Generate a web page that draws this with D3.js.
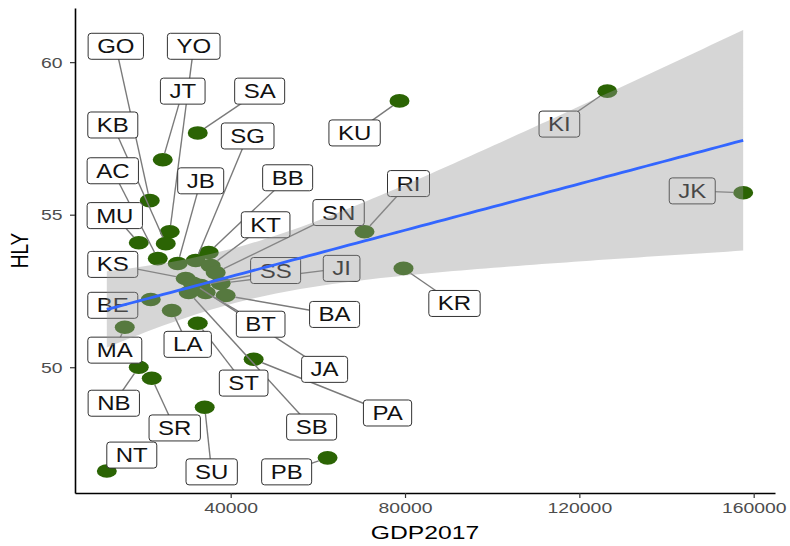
<!DOCTYPE html>
<html>
<head>
<meta charset="utf-8">
<script src="https://cdn.jsdelivr.net/npm/d3@7"></script>
<style>
  body { margin: 0; background: #fff; }
  text { font-family: "Liberation Sans", Arial, sans-serif; }
</style>
</head>
<body>
<svg width="790" height="546"></svg>
<script>
//## DATA ##
const provinces = ['GO', 'YO', 'JT', 'SA', 'KB', 'AC', 'MU', 'KS', 'BE', 'MA', 'NB', 'SR', 'NT', 'SU', 'PB', 'PA', 'LA',
  'ST', 'JB', 'SG', 'BB', 'KT', 'SN', 'SS', 'JI', 'BA', 'BT', 'JA', 'SB', 'RI', 'KR', 'KI', 'KU', 'JK']
const gdp2017 = [21430, 26020, 24410, 32440, 25100, 23270, 18910, 29680, 21660, 15700, 18910, 21890, 11580, 34040, 62230, 45270, 26480,
  32440, 27850, 31980, 34960, 35410, 36560, 33120, 37710, 38850, 34270, 31290, 30370, 70710, 79650, 126410, 78730, 157590]
const hly = [55.46, 54.44, 56.80, 57.68, 54.05, 53.56, 54.08, 52.91, 52.22, 51.31, 50.00, 49.64, 46.60, 48.69, 47.03, 50.26, 51.86,
  51.44, 53.40, 53.50, 53.76, 53.33, 53.10, 52.68, 52.75, 52.35, 52.45, 52.75, 52.45, 54.44, 53.24, 59.05, 58.73, 55.72]
// where the repelled labels ended up (data units)
const labelGdp = [13640, 31520, 29000, 46650, 12950, 12950, 13410, 12950, 12950, 13410, 13180, 27160, 17310, 35640, 52840, 75990, 30140,
  42980, 33120, 43900, 53070, 48020, 64760, 50310, 65450, 63840, 46880, 61550, 58570, 80800, 91350, 115420, 68430, 145900]
const labelHly = [60.52, 60.52, 59.05, 59.05, 57.94, 56.44, 54.97, 53.37, 52.03, 50.56, 48.82, 48.01, 47.12, 46.57, 46.57, 48.50, 50.75,
  49.48, 56.11, 57.58, 56.21, 54.67, 55.07, 53.17, 53.24, 51.73, 51.41, 49.93, 48.04, 56.02, 52.09, 57.97, 57.68, 55.78]
const xTicks = [40000, 80000, 120000, 160000]
const yTicks = [50, 55, 60]

//## SETTINGS ##
const svg = d3.select('svg')
const margin = { left: 75, right: 15, top: 8, bottom: 53 }
const width = 790
const height = 546
const stretch = 1.2 // the picture is a bit wider than tall

const data = provinces.map((p, i) => ({ name: p, x: gdp2017[i], y: hly[i], lx: labelGdp[i], ly: labelHly[i] }))

//## LINEAR MODEL (geom_smooth method = 'lm') ##
const n = data.length
const meanX = d3.mean(data, d => d.x)
const meanY = d3.mean(data, d => d.y)
const sxx = d3.sum(data, d => (d.x - meanX) ** 2)
const sxy = d3.sum(data, d => (d.x - meanX) * (d.y - meanY))
const slope = sxy / sxx
const intercept = meanY - slope * meanX
const sse = d3.sum(data, d => (d.y - intercept - slope * d.x) ** 2)
const sigma = Math.sqrt(sse / (n - 2))
const tCrit = 2.0369 // qt(0.975, 32)

const [minX, maxX] = d3.extent(data, d => d.x)
const fit = d3.range(80).map(i => {
  const gx = minX + i * (maxX - minX) / 79
  const fy = intercept + slope * gx
  const se = sigma * Math.sqrt(1 / n + (gx - meanX) ** 2 / sxx)
  return { x: gx, y: fy, lo: fy - tCrit * se, hi: fy + tCrit * se }
})

//## SCALES ##
const expand = ([a, b]) => [a - (b - a) * 0.05, b + (b - a) * 0.05]
const yExtent = [Math.min(d3.min(data, d => d.y), d3.min(fit, d => d.lo)), Math.max(d3.max(data, d => d.y), d3.max(fit, d => d.hi))]

const scaleX = d3.scaleLinear()
  .domain(expand([minX, maxX]))
  .range([margin.left, width - margin.right])

const scaleY = d3.scaleLinear()
  .domain(expand(yExtent))
  .range([height - margin.bottom, margin.top])

//## POINTS ##
const rx = 10
const ry = 6.8
svg.append('g').selectAll('ellipse').data(data)
  .enter().append('ellipse')
    .attr('cx', d => scaleX(d.x))
    .attr('cy', d => scaleY(d.y))
    .attr('rx', rx)
    .attr('ry', ry)
    .attr('fill', '#2b6404')

//## LABEL SEGMENTS ##
svg.append('g').selectAll('line').data(data)
  .enter().append('line')
    .each(function(d) {
      const px = scaleX(d.x)
      const py = scaleY(d.y)
      const lx = scaleX(d.lx)
      const ly = scaleY(d.ly)
      const dx = lx - px
      const dy = ly - py
      const k = 1 / Math.sqrt((dx / rx) ** 2 + (dy / ry) ** 2) // stop at the point edge
      d3.select(this)
        .attr('x1', lx).attr('y1', ly)
        .attr('x2', px + dx * Math.min(k, 1)).attr('y2', py + dy * Math.min(k, 1))
    })
    .attr('stroke', '#7a7a7a')
    .attr('stroke-width', 1.4)

//## LABELS ##
const labels = svg.append('g').selectAll('g').data(data)
  .enter().append('g')
    .attr('transform', d => 'translate(' + scaleX(d.lx) + ',' + scaleY(d.ly) + ')')

const boxes = labels.append('rect')
labels.append('text')
  .attr('text-anchor', 'middle')
  .attr('transform', 'translate(0,7) scale(' + stretch + ',1)')
  .attr('font-size', 20)
  .attr('fill', '#111')
  .text(d => d.name)

labels.each(function() {
  const g = d3.select(this)
  const w = g.select('text').node().getComputedTextLength() * stretch + 18
  g.select('rect')
    .attr('x', -w / 2).attr('y', -13)
    .attr('width', w).attr('height', 26)
    .attr('rx', 3)
    .attr('fill', '#fff')
    .attr('stroke', '#333')
    .attr('stroke-width', 1)
})

//## SMOOTH ##
svg.append('path')
  .datum(fit)
  .attr('d', d3.area().x(d => scaleX(d.x)).y0(d => scaleY(d.lo)).y1(d => scaleY(d.hi)))
  .attr('fill', '#999999')
  .attr('fill-opacity', 0.4)

svg.append('path')
  .datum(fit)
  .attr('d', d3.line().x(d => scaleX(d.x)).y(d => scaleY(d.y)))
  .attr('fill', 'none')
  .attr('stroke', '#3366FF')
  .attr('stroke-width', 2.8)

//## AXES ##
const xAxisGroup = svg.append('g')
  .attr('transform', 'translate(0,' + (height - margin.bottom) + ')')
  .call(d3.axisBottom(scaleX).tickValues(xTicks).tickFormat(d3.format('d')).tickSize(5).tickSizeOuter(0).tickPadding(4))

const yAxisGroup = svg.append('g')
  .attr('transform', 'translate(' + margin.left + ',0)')
  .call(d3.axisLeft(scaleY).tickValues(yTicks).tickSize(5).tickSizeOuter(0))

svg.selectAll('.domain').attr('stroke', '#000').attr('stroke-width', 1.6)
svg.selectAll('.tick line').attr('stroke', '#333').attr('stroke-width', 1.2)
svg.selectAll('.tick text')
  .attr('font-size', 15.5)
  .attr('font-family', '"Liberation Sans", Arial, sans-serif')
  .attr('fill', '#4d4d4d')
  .attr('transform', 'scale(1.25,1)')
yAxisGroup.selectAll('.tick text').attr('x', -10)

svg.append('text')
  .attr('text-anchor', 'middle')
  .attr('transform', 'translate(' + ((margin.left + width - margin.right) / 2) + ',539) scale(1.3,1)')
  .attr('font-size', 19)
  .text('GDP2017')

svg.append('text')
  .attr('text-anchor', 'middle')
  .attr('transform', 'translate(28,' + ((margin.top + height - margin.bottom) / 2) + ') scale(1.3,1) rotate(-90)')
  .attr('font-size', 19)
  .text('HLY')
</script>
</body>
</html>
